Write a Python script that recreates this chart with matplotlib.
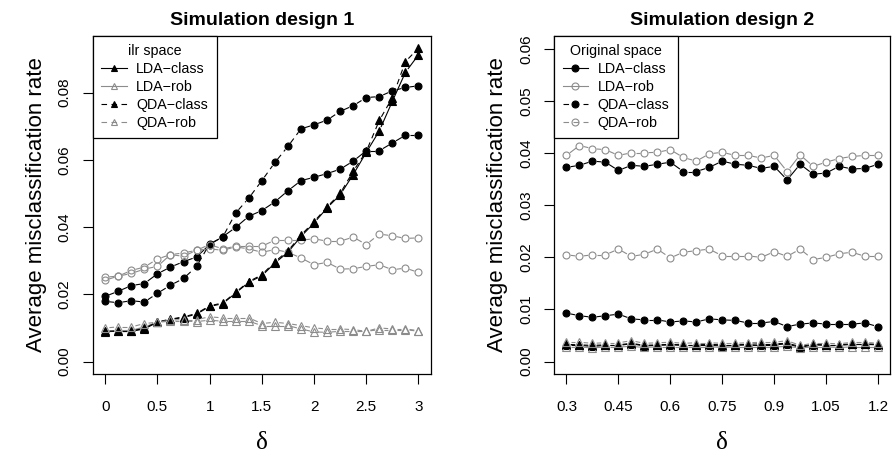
import numpy as np
import matplotlib
matplotlib.use("Agg")
import matplotlib.pyplot as plt
from matplotlib.collections import LineCollection
from matplotlib.lines import Line2D

plt.rcParams['font.family'] = ['Liberation Sans', 'DejaVu Sans']

# Simulation design 1: delta from 0 to 3
delta1 = np.arange(25) * 0.125
# ilr space (triangles)
d1_ilr_lda_class = [0.0089, 0.0090, 0.0090, 0.0097, 0.0117, 0.0125, 0.0131, 0.0141, 0.0164, 0.0172,
                    0.0204, 0.0236, 0.0255, 0.0293, 0.0325, 0.0372, 0.0412, 0.0457, 0.0496, 0.0556,
                    0.0622, 0.0686, 0.0774, 0.0860, 0.0912]
d1_ilr_lda_rob = [0.0090, 0.0093, 0.0093, 0.0103, 0.0117, 0.0120, 0.0120, 0.0119, 0.0123, 0.0120,
                  0.0120, 0.0120, 0.0107, 0.0107, 0.0107, 0.0097, 0.0088, 0.0087, 0.0090, 0.0090,
                  0.0090, 0.0095, 0.0095, 0.0095, 0.0090]
d1_ilr_qda_class = [0.0090, 0.0091, 0.0091, 0.0099, 0.0118, 0.0126, 0.0133, 0.0143, 0.0166, 0.0174,
                    0.0206, 0.0238, 0.0258, 0.0297, 0.0329, 0.0376, 0.0416, 0.0460, 0.0500, 0.0566,
                    0.0625, 0.0717, 0.0785, 0.0892, 0.0932]
d1_ilr_qda_rob = [0.0100, 0.0103, 0.0103, 0.0113, 0.0117, 0.0123, 0.0125, 0.0125, 0.0133, 0.0130,
                  0.0130, 0.0130, 0.0113, 0.0117, 0.0113, 0.0107, 0.0100, 0.0097, 0.0097, 0.0095,
                  0.0090, 0.0100, 0.0097, 0.0097, 0.0092]
# original space (circles)
d1_orig_lda_class = [0.0194, 0.0209, 0.0226, 0.0232, 0.0261, 0.0281, 0.0297, 0.0311, 0.0348, 0.0371,
                     0.0399, 0.0432, 0.0449, 0.0475, 0.0508, 0.0538, 0.0548, 0.0559, 0.0572, 0.0596,
                     0.0627, 0.0627, 0.0650, 0.0673, 0.0673]
d1_orig_lda_rob = [0.0242, 0.0254, 0.0262, 0.0275, 0.0283, 0.0318, 0.0313, 0.0331, 0.0335, 0.0331,
                   0.0341, 0.0335, 0.0325, 0.0333, 0.0325, 0.0308, 0.0288, 0.0295, 0.0275, 0.0276,
                   0.0283, 0.0288, 0.0273, 0.0278, 0.0265]
d1_orig_qda_class = [0.0179, 0.0175, 0.0181, 0.0177, 0.0203, 0.0227, 0.0247, 0.0283, 0.0350, 0.0370,
                     0.0442, 0.0486, 0.0538, 0.0592, 0.0640, 0.0692, 0.0704, 0.0718, 0.0744, 0.0761,
                     0.0785, 0.0788, 0.0805, 0.0815, 0.0820]
d1_orig_qda_rob = [0.0251, 0.0254, 0.0271, 0.0281, 0.0305, 0.0318, 0.0323, 0.0331, 0.0348, 0.0335,
                   0.0343, 0.0343, 0.0343, 0.0361, 0.0361, 0.0361, 0.0365, 0.0358, 0.0358, 0.0370,
                   0.0348, 0.0379, 0.0374, 0.0366, 0.0368]

# Simulation design 2: delta from 0.3 to 1.2
delta2 = 0.3 + np.arange(25) * 0.0375
d2_orig_lda_class = [0.0373, 0.0377, 0.0385, 0.0383, 0.0367, 0.0377, 0.0375, 0.0379, 0.0383, 0.0365,
                     0.0365, 0.0373, 0.0385, 0.0379, 0.0377, 0.0371, 0.0375, 0.0349, 0.0379, 0.0360,
                     0.0362, 0.0375, 0.0370, 0.0371, 0.0379]
d2_orig_lda_rob = [0.0396, 0.0415, 0.0409, 0.0407, 0.0396, 0.0401, 0.0401, 0.0402, 0.0407, 0.0392,
                   0.0385, 0.0399, 0.0402, 0.0396, 0.0396, 0.0391, 0.0396, 0.0365, 0.0397, 0.0375,
                   0.0383, 0.0390, 0.0394, 0.0396, 0.0396]
d2_orig_qda_class = [0.0093, 0.0088, 0.0085, 0.0088, 0.0091, 0.0082, 0.0080, 0.0080, 0.0076, 0.0078,
                     0.0076, 0.0082, 0.0080, 0.0079, 0.0074, 0.0074, 0.0077, 0.0067, 0.0072, 0.0074,
                     0.0072, 0.0072, 0.0072, 0.0074, 0.0067]
d2_orig_qda_rob = [0.0205, 0.0202, 0.0205, 0.0205, 0.0216, 0.0202, 0.0206, 0.0216, 0.0199, 0.0210,
                   0.0213, 0.0216, 0.0203, 0.0203, 0.0203, 0.0200, 0.0211, 0.0202, 0.0216, 0.0196,
                   0.0200, 0.0207, 0.0210, 0.0202, 0.0202]
d2_ilr_lda_class = [0.0031, 0.0031, 0.0029, 0.0031, 0.0031, 0.0034, 0.0030, 0.0031, 0.0032, 0.0031,
                    0.0031, 0.0031, 0.0030, 0.0031, 0.0032, 0.0032, 0.0032, 0.0034, 0.0027, 0.0032,
                    0.0031, 0.0031, 0.0033, 0.0033, 0.0032]
d2_ilr_lda_rob = [0.0028, 0.0028, 0.0026, 0.0028, 0.0028, 0.0029, 0.0027, 0.0028, 0.0028, 0.0028,
                  0.0028, 0.0028, 0.0027, 0.0028, 0.0028, 0.0028, 0.0028, 0.0029, 0.0026, 0.0028,
                  0.0028, 0.0027, 0.0028, 0.0028, 0.0028]
d2_ilr_qda_class = [0.0033, 0.0032, 0.0031, 0.0032, 0.0032, 0.0035, 0.0031, 0.0032, 0.0033, 0.0032,
                    0.0032, 0.0033, 0.0032, 0.0032, 0.0033, 0.0034, 0.0034, 0.0035, 0.0029, 0.0033,
                    0.0032, 0.0032, 0.0034, 0.0034, 0.0033]
d2_ilr_qda_rob = [0.0037, 0.0037, 0.0035, 0.0036, 0.0036, 0.0040, 0.0035, 0.0036, 0.0037, 0.0035,
                  0.0036, 0.0036, 0.0035, 0.0035, 0.0036, 0.0037, 0.0037, 0.0040, 0.0031, 0.0035,
                  0.0035, 0.0034, 0.0037, 0.0037, 0.0035]

labels = ["LDA\u2212class", "LDA\u2212rob", "QDA\u2212class", "QDA\u2212rob"]

GRAY = "#8c8c8c"
DASH = (0, (5, 4))
LW = 0.8
# style per method: (colour, linestyle, filled)
styles = [("black", "-", True), (GRAY, "-", False), ("black", DASH, True), (GRAY, DASH, False)]


def type_b(ax, x, y, color, ls, marker, filled, ms, gap=4.2):
    # R type="b": segments stop short of the points
    pts = ax.transData.transform(np.column_stack([x, y]))
    inv = ax.transData.inverted()
    segs = []
    for p0, p1 in zip(pts[:-1], pts[1:]):
        d = p1 - p0
        L = np.hypot(*d)
        if L <= 2 * gap:
            continue
        u = d / L
        segs.append(inv.transform(np.array([p0 + u * gap, p1 - u * gap])))
    ax.add_collection(LineCollection(segs, colors=color, linestyles=[ls], linewidths=LW))
    ax.plot(x, y, linestyle='none', marker=marker, ms=ms, mew=0.8,
            mfc=color if filled else 'none', mec=color)


def setup(ax, xlim, ylim, xticks, xlabels, yticks, title):
    ax.set_xlim(*xlim)
    ax.set_ylim(*ylim)
    ax.set_xticks(xticks)
    ax.set_xticklabels(xlabels)
    ax.set_yticks(yticks)
    ax.set_yticklabels(["%.2f" % v for v in yticks], rotation=90, va='center')
    ax.tick_params(direction='out', length=7, width=0.8, labelsize=11, pad=12)
    ax.tick_params(axis='y', pad=8)
    for s in ax.spines.values():
        s.set_linewidth(0.9)
    ax.set_title(title, fontsize=14, fontweight='bold', pad=8)
    ax.set_ylabel("Average misclassification rate", fontsize=16, labelpad=8)
    ax.set_xlabel("\u03b4", fontsize=18, family=['Liberation Serif', 'DejaVu Serif'], labelpad=13)


def legend(ax, marker, title):
    handles = []
    for col, ls, filled in styles:
        handles.append(Line2D([], [], color=col, ls=ls, lw=LW, marker=marker, ms=5,
                              mfc=col if filled else 'none', mec=col, mew=0.8))
    lg = ax.legend(handles, labels, title=title, loc='upper left', fontsize=10.3,
                   title_fontsize=10.3, frameon=True, fancybox=False, framealpha=1,
                   edgecolor='black', borderaxespad=0, handlelength=1.8, handletextpad=0.65,
                   labelspacing=0.27, borderpad=0.6, numpoints=1)
    lg.get_frame().set_linewidth(0.9)


fig = plt.figure(figsize=(8.92, 4.57), dpi=100)
ax1 = fig.add_axes([0.1039, 0.1816, 0.3793, 0.7403])
ax2 = fig.add_axes([0.6211, 0.1816, 0.3772, 0.7403])

setup(ax1, (-0.12, 3.12), (-0.0037, 0.0969), [0, 0.5, 1, 1.5, 2, 2.5, 3],
      ["0", "0.5", "1", "1.5", "2", "2.5", "3"], [0, 0.02, 0.04, 0.06, 0.08], "Simulation design 1")
setup(ax2, (0.264, 1.236), (-0.0024, 0.0626), [0.3, 0.45, 0.6, 0.75, 0.9, 1.05, 1.2],
      ["0.3", "0.45", "0.6", "0.75", "0.9", "1.05", "1.2"],
      [0, 0.01, 0.02, 0.03, 0.04, 0.05, 0.06], "Simulation design 2")

d1_orig = [d1_orig_lda_class, d1_orig_lda_rob, d1_orig_qda_class, d1_orig_qda_rob]
d1_ilr = [d1_ilr_lda_class, d1_ilr_lda_rob, d1_ilr_qda_class, d1_ilr_qda_rob]
d2_orig = [d2_orig_lda_class, d2_orig_lda_rob, d2_orig_qda_class, d2_orig_qda_rob]
d2_ilr = [d2_ilr_lda_class, d2_ilr_lda_rob, d2_ilr_qda_class, d2_ilr_qda_rob]

for (col, ls, filled), y in zip(styles, d1_orig):
    type_b(ax1, delta1, y, col, ls, 'o', filled, 5)
for (col, ls, filled), y in zip(styles, d1_ilr):
    type_b(ax1, delta1, y, col, ls, '^', filled, 5.5)
for (col, ls, filled), y in zip(styles, d2_orig):
    type_b(ax2, delta2, y, col, ls, 'o', filled, 5)
for (col, ls, filled), y in zip(styles, d2_ilr):
    type_b(ax2, delta2, y, col, ls, '^', filled, 5.5)

legend(ax1, '^', "ilr space")
legend(ax2, 'o', "Original space")

fig.savefig("out.png", dpi=100)
